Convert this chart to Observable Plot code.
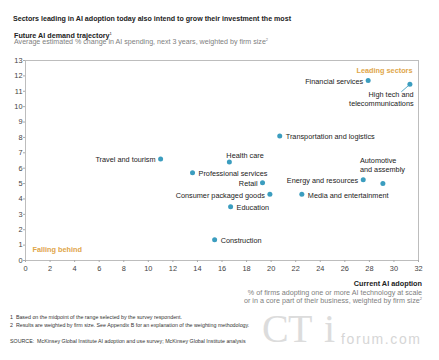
<!DOCTYPE html>
<html><head><meta charset="utf-8">
<script src="https://cdn.jsdelivr.net/npm/d3@7"></script>
<script src="https://cdn.jsdelivr.net/npm/@observablehq/plot@0.6"></script>
<style>
body{margin:0;background:#fff;font-family:"Liberation Sans",Arial,sans-serif;}
#wrap{position:relative;width:439px;height:360px;overflow:hidden;background:#fff}
.t{position:absolute;white-space:nowrap;line-height:8px}
#chart{position:absolute;left:0;top:52px}
</style></head><body><div id="wrap">
<div class="t" style="left:13px;top:15.3px;font-size:7.1px;font-weight:bold;color:#222">Sectors leading in AI adoption today also intend to grow their investment the most</div>
<div class="t" style="left:14px;top:31.5px;font-size:7.2px;line-height:7px;font-weight:bold;color:#222">Future AI demand trajectory<sup style="font-size:4px;line-height:0;font-weight:normal">1</sup></div>
<div class="t" style="left:14px;top:39.3px;font-size:7.1px;line-height:7px;color:#808080">Average estimated % change in AI spending, next 3 years, weighted by firm size<sup style="font-size:4px;line-height:0">2</sup></div>
<div id="chart"></div>
<div class="t" style="left:262px;top:309px;font-size:40px;line-height:40px;font-family:'Liberation Serif',serif;color:#dcdcdc;">C</div>
<div class="t" style="left:288px;top:309px;font-size:40px;line-height:40px;font-family:'Liberation Serif',serif;color:#dcdcdc;">T</div>
<div class="t" style="left:324px;top:309px;font-size:40px;line-height:40px;font-family:'Liberation Serif',serif;color:#dcdcdc;">i</div>
<div class="t" style="left:341px;top:332px;font-size:14px;line-height:14px;letter-spacing:1.6px;color:#d6d6d6;">forum.com</div>
<div class="t" style="right:17px;top:280.3px;font-size:7.3px;font-weight:bold;color:#222;text-align:right">Current AI adoption</div>
<div class="t" style="right:17px;top:288.9px;font-size:7.2px;line-height:7px;color:#808080;text-align:right">% of firms adopting one or more AI technology at scale</div>
<div class="t" style="right:17px;top:296.8px;font-size:7.2px;line-height:7px;color:#808080;text-align:right">or in a core part of their business, weighted by firm size<sup style="font-size:4px;line-height:0">2</sup></div>
<div class="t" style="left:10px;top:314.3px;font-size:5.3px;line-height:6px;color:#333">1&nbsp; Based on the midpoint of the range selected by the survey respondent.</div>
<div class="t" style="left:10px;top:322.3px;font-size:5.3px;line-height:6px;color:#333">2&nbsp; Results are weighted by firm size. See Appendix B for an explanation of the weighting methodology.</div>
<div class="t" style="left:10px;top:337.7px;font-size:5.3px;line-height:6px;color:#333">SOURCE:&nbsp; McKinsey Global Institute AI adoption and use survey; McKinsey Global Institute analysis</div>
</div>
<script>
const sectors = ["Travel and tourism","Professional services","Construction","Health care","Education","Retail","Consumer packaged goods","Transportation and logistics","Media and entertainment","Energy and resources","Financial services","Automotive and assembly","High tech and telecommunications"];
const adoption = [11.0, 13.6, 15.4, 16.6, 16.7, 19.3, 19.9, 20.7, 22.5, 27.5, 27.9, 29.1, 31.3];
const demand   = [6.6, 5.7, 1.35, 6.4, 3.5, 5.05, 4.3, 8.1, 4.3, 5.25, 11.7, 5.0, 11.45];
const xTicks = [0,2,4,6,8,10,12,14,16,18,20,22,24,26,28,30,32];
const yTicks = [0,1,2,3,4,5,6,7,8,9,10,11,12,13];
const cornerLabels = ["Leading sectors", "Falling behind"];

const data = sectors.map((s, i) => ({sector: s, x: adoption[i], y: demand[i]}));
const pick = names => data.filter(d => names.includes(d.sector));

const leftNames = ["Travel and tourism","Retail","Consumer packaged goods","Energy and resources","Financial services"];
const rightNames = ["Professional services","Construction","Education","Transportation and logistics","Media and entertainment"];
const lblFill = "#222", fs = 7.3, dotColor = "#3b9dbf", orange = "#e0a64a";

const chart = Plot.plot({
  width: 439, height: 223,
  marginTop: 8, marginBottom: 15, marginLeft: 25, marginRight: 21,
  style: {fontFamily: "'Liberation Sans', Arial, sans-serif", fontSize: "7.4px", color: "#444", background: "transparent"},
  x: {domain: [0, 32]},
  y: {domain: [0, 13]},
  marks: [
    Plot.frame({stroke: "#bdbdbd"}),
    Plot.axisX({ticks: xTicks, tickSize: 2, tickPadding: 3, stroke: "#aaa", label: null}),
    Plot.axisY({ticks: yTicks, tickSize: 2, tickPadding: 1, stroke: "#aaa", label: null}),
    Plot.text(pick(leftNames), {x: "x", y: "y", text: "sector", textAnchor: "end", dx: -5, dy: 1, fill: lblFill, fontSize: fs}),
    Plot.text(pick(rightNames), {x: "x", y: "y", text: "sector", textAnchor: "start", dx: 6, dy: 1, fill: lblFill, fontSize: fs}),
    Plot.text(pick(["Health care"]), {x: "x", y: "y", text: "sector", textAnchor: "start", dx: -3, dy: -6.5, fill: lblFill, fontSize: fs}),
    Plot.text(pick(["Automotive and assembly"]), {x: "x", y: "y", text: () => "Automotive\nand assembly", textAnchor: "start", lineAnchor: "middle", lineHeight: 1.19, dx: -23, dy: -18.7, fill: lblFill, fontSize: fs}),
    Plot.text(pick(["High tech and telecommunications"]), {x: "x", y: "y", text: () => "High tech and\ntelecommunications", textAnchor: "end", lineAnchor: "middle", lineHeight: 1.14, dx: 3.7, dy: 14.5, fill: lblFill, fontSize: fs}),
    Plot.vector(pick(["High tech and telecommunications"]), {x: "x", y: "y", rotate: 229, length: 11, anchor: "start", stroke: dotColor, strokeWidth: 0.8,
      shape: {draw(context, l) { context.moveTo(0, -1.5); context.lineTo(0, -l); }}}),
    Plot.dot(data, {x: "x", y: "y", r: 2.5, fill: dotColor}),
    Plot.text([cornerLabels[0]], {frameAnchor: "top-right", textAnchor: "end", lineAnchor: "middle", dx: -6, dy: 10, fill: orange, fontWeight: "bold", fontSize: fs}),
    Plot.text([cornerLabels[1]], {frameAnchor: "bottom-left", textAnchor: "start", lineAnchor: "middle", dx: 7, dy: -10.7, fill: orange, fontWeight: "bold", fontSize: fs})
  ]
});
document.getElementById("chart").appendChild(chart);
</script>
</body></html>
